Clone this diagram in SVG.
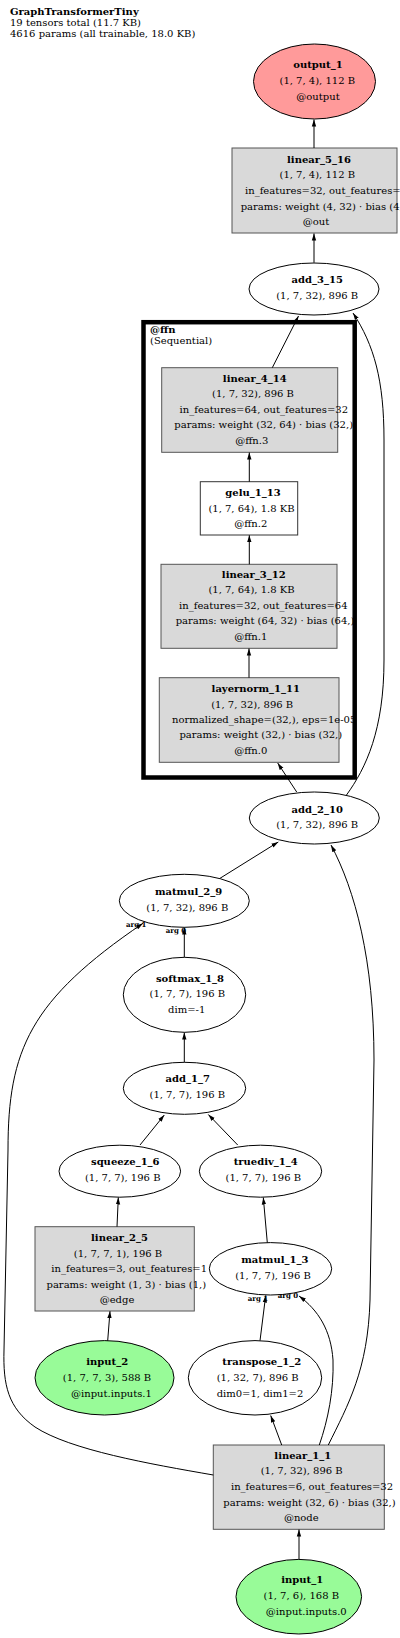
<svg xmlns="http://www.w3.org/2000/svg" width="400" height="1638" viewBox="0 0 400 1638">
<style>
text { font-family: "DejaVu Serif", "Liberation Serif", serif; font-size: 10px; fill: #000; }
.c { text-anchor: middle; }
.b { font-weight: bold; }
.s { text-anchor: start; }
.lbl { font-size: 7px; font-weight: bold; text-anchor: start; }
.box { fill: #d9d9d9; stroke: #555; stroke-width: 1; }
.wbox { fill: #fff; stroke: #333; stroke-width: 1; }
.ell { fill: #fff; stroke: #000; stroke-width: 1; }
.out { fill: #ff9a9a; stroke: #000; stroke-width: 1; }
.inp { fill: #98fb98; stroke: #000; stroke-width: 1; }
.e { fill: none; stroke: #000; stroke-width: 1; marker-end: url(#ah); }
</style>
<defs>
<marker id="ah" markerWidth="8" markerHeight="6" refX="7" refY="3" orient="auto" markerUnits="userSpaceOnUse">
<path d="M0,0.8 L7,3 L0,5.2 z" fill="#000"/>
</marker>
</defs>
<rect width="400" height="1638" fill="#fff"/>

<g id="title">
<text class="s b" x="10" y="14.7">GraphTransformerTiny</text>
<text class="s" x="10" y="26">19 tensors total (11.7 KB)</text>
<text class="s" x="10" y="37">4616 params (all trainable, 18.0 KB)</text>
</g>

<g id="cluster_ffn">
<rect x="143.5" y="322.2" width="211.2" height="455.3" fill="none" stroke="#000" stroke-width="4.5"/>
<text class="s b" x="150" y="333.3">@ffn</text>
<text class="s" x="150" y="344">(Sequential)</text>
</g>

<g id="output_1">
<ellipse class="out" cx="314.5" cy="81.5" rx="61" ry="37.5"/>
<text class="c b" x="318" y="68">output_1</text>
<text class="c" x="317.3" y="84">(1, 7, 4), 112 B</text>
<text class="c" x="318" y="100">@output</text>
</g>

<g id="linear_5_16">
<rect class="box" x="232" y="148" width="165" height="85"/>
<text class="c b" x="319" y="163">linear_5_16</text>
<text class="c" x="317.3" y="178">(1, 7, 4), 112 B</text>
<text class="s" x="245" y="194">in_features=32, out_features=4</text>
<text class="s" x="240.7" y="210">params: weight (4, 32) · bias (4,)</text>
<text class="c" x="316" y="225">@out</text>
</g>

<g id="add_3_15">
<ellipse class="ell" cx="314" cy="289" rx="65" ry="26"/>
<text class="c b" x="317.2" y="283.3">add_3_15</text>
<text class="c" x="317.2" y="299.3">(1, 7, 32), 896 B</text>
</g>

<g id="linear_4_14">
<rect class="box" x="161.7" y="367.7" width="176" height="84.6"/>
<text class="c b" x="254.8" y="381.7">linear_4_14</text>
<text class="c" x="253" y="397.3">(1, 7, 32), 896 B</text>
<text class="c" x="263.8" y="413.3">in_features=64, out_features=32</text>
<text class="c" x="263.7" y="428.3">params: weight (32, 64) · bias (32,)</text>
<text class="c" x="251.8" y="444">@ffn.3</text>
</g>

<g id="gelu_1_13">
<rect class="wbox" x="200.3" y="481.7" width="97.4" height="53.3"/>
<text class="c b" x="253" y="495.7">gelu_1_13</text>
<text class="c" x="251.5" y="511.7">(1, 7, 64), 1.8 KB</text>
<text class="c" x="250.8" y="526.7">@ffn.2</text>
</g>

<g id="linear_3_12">
<rect class="box" x="161" y="564.3" width="176" height="84"/>
<text class="c b" x="253.8" y="577.7">linear_3_12</text>
<text class="c" x="251.5" y="593.3">(1, 7, 64), 1.8 KB</text>
<text class="c" x="263.3" y="609.3">in_features=32, out_features=64</text>
<text class="c" x="265" y="624.3">params: weight (64, 32) · bias (64,)</text>
<text class="c" x="250.8" y="640">@ffn.1</text>
</g>

<g id="layernorm_1_11">
<rect class="box" x="159.3" y="677.7" width="179.7" height="84.6"/>
<text class="c b" x="255.8" y="691.7">layernorm_1_11</text>
<text class="c" x="252.2" y="707.7">(1, 7, 32), 896 B</text>
<text class="c" x="264.2" y="723.3">normalized_shape=(32,), eps=1e-05</text>
<text class="c" x="260.8" y="738.3">params: weight (32,) · bias (32,)</text>
<text class="c" x="250.8" y="754">@ffn.0</text>
</g>

<g id="add_2_10">
<ellipse class="ell" cx="314.3" cy="818" rx="65" ry="26"/>
<text class="c b" x="317.2" y="812.7">add_2_10</text>
<text class="c" x="317.2" y="828.3">(1, 7, 32), 896 B</text>
</g>

<g id="matmul_2_9">
<ellipse class="ell" cx="184.3" cy="900.8" rx="65" ry="26.5"/>
<text class="c b" x="188.5" y="895">matmul_2_9</text>
<text class="c" x="187.3" y="911">(1, 7, 32), 896 B</text>
</g>

<g id="softmax_1_8">
<ellipse class="ell" cx="184.5" cy="994.8" rx="61.2" ry="37.5"/>
<text class="c b" x="190" y="981.7">softmax_1_8</text>
<text class="c" x="187.3" y="997.3">(1, 7, 7), 196 B</text>
<text class="c" x="186.7" y="1013.3">dim=-1</text>
</g>

<g id="add_1_7">
<ellipse class="ell" cx="184.5" cy="1088.3" rx="61.2" ry="26"/>
<text class="c b" x="187.8" y="1082.3">add_1_7</text>
<text class="c" x="187.3" y="1098.3">(1, 7, 7), 196 B</text>
</g>

<g id="squeeze_1_6">
<ellipse class="ell" cx="119.8" cy="1171.2" rx="60.8" ry="26"/>
<text class="c b" x="125.3" y="1165">squeeze_1_6</text>
<text class="c" x="122.7" y="1181">(1, 7, 7), 196 B</text>
</g>

<g id="truediv_1_4">
<ellipse class="ell" cx="260.5" cy="1171.2" rx="61.2" ry="26"/>
<text class="c b" x="265.7" y="1165">truediv_1_4</text>
<text class="c" x="263.3" y="1181">(1, 7, 7), 196 B</text>
</g>

<g id="linear_2_5">
<rect class="box" x="35" y="1226.7" width="159.3" height="84.3"/>
<text class="c b" x="119.5" y="1240.7">linear_2_5</text>
<text class="c" x="118" y="1256.7">(1, 7, 7, 1), 196 B</text>
<text class="c" x="129.2" y="1272.3">in_features=3, out_features=1</text>
<text class="c" x="126.3" y="1287.7">params: weight (1, 3) · bias (1,)</text>
<text class="c" x="117" y="1303.3">@edge</text>
</g>

<g id="matmul_1_3">
<ellipse class="ell" cx="270.5" cy="1268.8" rx="61.2" ry="26.2"/>
<text class="c b" x="274.8" y="1263.3">matmul_1_3</text>
<text class="c" x="273" y="1279">(1, 7, 7), 196 B</text>
</g>

<g id="transpose_1_2">
<ellipse class="ell" cx="255" cy="1377.8" rx="66.7" ry="37.2"/>
<text class="c b" x="261.7" y="1365">transpose_1_2</text>
<text class="c" x="257.7" y="1380.7">(1, 32, 7), 896 B</text>
<text class="c" x="260" y="1396.7">dim0=1, dim1=2</text>
</g>

<g id="input_2">
<ellipse class="inp" cx="104.5" cy="1377.8" rx="69.5" ry="37.2"/>
<text class="c b" x="107.2" y="1365">input_2</text>
<text class="c" x="107" y="1380.7">(1, 7, 7, 3), 588 B</text>
<text class="c" x="111.5" y="1396.7">@input.inputs.1</text>
</g>

<g id="linear_1_1">
<rect class="box" x="213.3" y="1445" width="171" height="84.3"/>
<text class="c b" x="302.8" y="1459">linear_1_1</text>
<text class="c" x="301.7" y="1474.3">(1, 7, 32), 896 B</text>
<text class="c" x="312" y="1490">in_features=6, out_features=32</text>
<text class="c" x="309.5" y="1505.7">params: weight (32, 6) · bias (32,)</text>
<text class="c" x="301.3" y="1521">@node</text>
</g>

<g id="input_1">
<ellipse class="inp" cx="298.8" cy="1596.7" rx="62.8" ry="37.3"/>
<text class="c b" x="302.2" y="1583.3">input_1</text>
<text class="c" x="301.3" y="1599">(1, 7, 6), 168 B</text>
<text class="c" x="306.3" y="1615">@input.inputs.0</text>
</g>

<g id="edge_labels">
<text class="lbl" x="126" y="927.3">arg 1</text>
<text class="lbl" x="165.7" y="933.3">arg 0</text>
<text class="lbl" x="247.7" y="1301">arg 1</text>
<text class="lbl" x="277.7" y="1298.3">arg 0</text>
</g>

<g id="connectors">
<path class="e" d="M314,148 L314,119.5"/>
<path class="e" d="M314,262.7 L314,233.5"/>
<path class="e" d="M272.3,367.7 L298.5,316"/>
<path class="e" d="M346.5,795 C366,768 384,730 384,660 L384,440 C384,380 374,345 353,313"/>
<path class="e" d="M249.3,481.7 L249.3,452.5"/>
<path class="e" d="M249.3,564.3 L249.3,535.2"/>
<path class="e" d="M249,677.7 L249,648.5"/>
<path class="e" d="M296.7,792 L277.7,763"/>
<path class="e" d="M220,878.3 L278.3,842"/>
<path class="e" d="M184.3,957.3 L184.3,927.5"/>
<path class="e" d="M213.3,1475 C150,1464 70,1450 35,1427 C8,1408 3,1385 4,1350 L8,1150 C8,1050 30,1000 143,923.3"/>
<path class="e" d="M184.3,1062.3 L184.3,1032.5"/>
<path class="e" d="M140,1145 L164.3,1115"/>
<path class="e" d="M237.7,1145 L208.3,1114.5"/>
<path class="e" d="M117,1226.7 L118.3,1197.5"/>
<path class="e" d="M267.3,1242.7 L263.3,1197.5"/>
<path class="e" d="M107.7,1340.7 L110,1311.2"/>
<path class="e" d="M260,1340.7 L265.7,1295.5"/>
<path class="e" d="M319.3,1445 C328,1420 334,1390 333,1360 C331,1330 318,1310 299,1296"/>
<path class="e" d="M281.7,1445 L270.7,1415.5"/>
<path class="e" d="M328.3,1445 C348,1405 368,1370 370,1300 L374,1060 C374,960 355,890 331,845"/>
<path class="e" d="M299,1559.3 L299,1529.5"/>
</g>
</svg>
